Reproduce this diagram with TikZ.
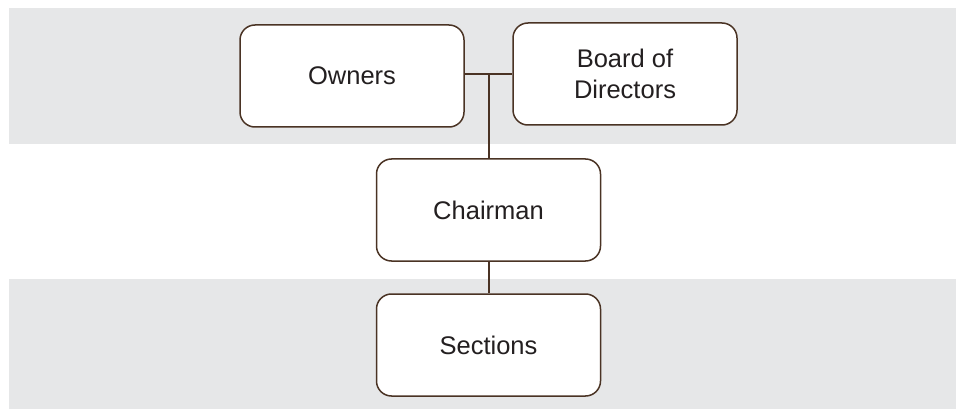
\documentclass[tikz,border=0pt]{standalone}
\usepackage{fontspec}
\setmainfont{Liberation Sans}
\definecolor{bandgray}{HTML}{E6E7E8}
\definecolor{edgebrown}{HTML}{4A3324}
\definecolor{inkgray}{HTML}{231F20}
\begin{document}
\begin{tikzpicture}[x=1pt,y=-1pt,
  band/.style={fill=bandgray},
  orgbox/.style={draw=edgebrown, line width=1.5pt, fill=white, rounded corners=15pt,
    minimum width=224pt, minimum height=102pt, inner sep=0pt, align=center,
    text=inkgray, font=\fontsize{25.5}{31}\selectfont},
  link/.style={draw=edgebrown, line width=1.5pt}]
\useasboundingbox (0,0) rectangle (956,409);
% background bands
\fill[band] (9,8) rectangle (956,144);
\fill[band] (9,279) rectangle (956,409);
% boxes
\node[orgbox] (owners) at (352,76) {Owners};
\node[orgbox] (board) at (625,74) {Board of\\Directors};
\node[orgbox] (chair) at (488.5,210) {Chairman};
\node[orgbox] (sect) at (488.5,345) {Sections};
% connectors
\coordinate (j) at (489,74);
\draw[link] (j -| owners.east) -- (j -| board.west);
\draw[link] (j) -- (j |- chair.north);
\draw[link] (chair.south -| j) -- (sect.north -| j);
\end{tikzpicture}
\end{document}
